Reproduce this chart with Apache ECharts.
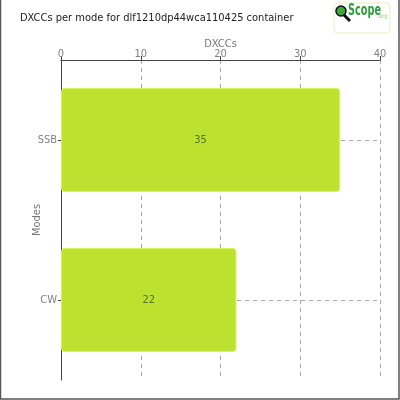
<!DOCTYPE html>
<html>
<head>
<meta charset="utf-8" />
<title>DXCCs per mode</title>
<script src="https://cdn.jsdelivr.net/npm/echarts@6/dist/echarts.min.js"></script>
<style>
  html, body { margin: 0; padding: 0; background: #fff; }
  #chart { width: 400px; height: 400px; }
</style>
</head>
<body>
<div id="chart"></div>
<script>
// data
var modes = ['CW', 'SSB'];
var dxccs = [22, 35];
var xTicks = [0, 10, 20, 30, 40];

var chart = echarts.init(document.getElementById('chart'));
var font = '"DejaVu Sans Condensed", sans-serif';

chart.setOption({
  animation: false,
  backgroundColor: '#fff',
  textStyle: { fontFamily: font },
  title: {
    text: 'DXCCs per mode for dlf1210dp44wca110425 container',
    left: 15, top: 8,
    textStyle: { fontFamily: font, fontSize: 11, fontWeight: 'normal', color: '#222' }
  },
  grid: { left: 61, right: 20, top: 60, bottom: 20, containLabel: false },
  xAxis: {
    type: 'value',
    position: 'top',
    min: xTicks[0], max: xTicks[xTicks.length - 1], interval: 10,
    name: 'DXCCs', nameLocation: 'middle', nameGap: 10, nameMoveOverlap: false,
    nameTextStyle: { color: '#777', fontSize: 11, fontFamily: font },
    axisLine: { show: true, lineStyle: { color: '#444', width: 1 } },
    axisTick: { show: true, length: 4, lineStyle: { color: '#444' } },
    axisLabel: { color: '#808080', fontSize: 11, margin: 0, fontFamily: font },
    splitLine: { show: true, lineStyle: { color: '#aaa', type: [4, 4] } }
  },
  yAxis: {
    type: 'category',
    data: modes,
    name: 'Modes', nameLocation: 'middle', nameGap: 18, nameRotate: 90, nameMoveOverlap: false,
    nameTextStyle: { color: '#777', fontSize: 11, fontFamily: font },
    axisLine: { show: true, lineStyle: { color: '#444', width: 1 } },
    axisTick: { show: true, alignWithLabel: true, length: 3, lineStyle: { color: '#444' } },
    axisLabel: { color: '#808080', fontSize: 11, margin: 4, fontFamily: font },
    splitLine: { show: true, alignWithLabel: true, lineStyle: { color: '#aaa', type: [4, 4] } }
  },
  series: [{
    type: 'bar',
    data: dxccs,
    barWidth: '65%',
    itemStyle: { color: '#bde12f', borderColor: '#d6f35a', borderWidth: 1, borderRadius: 3 },
    label: {
      show: true, position: 'inside',
      color: '#5f7020', fontSize: 11, fontFamily: font
    }
  }],
  graphic: [
    { type: 'rect', silent: true, shape: { x: 0.5, y: -2, width: 398.5, height: 401 }, style: { fill: null, stroke: '#555', lineWidth: 1.5 } },
    { type: 'rect', silent: true, shape: { x: 334, y: 3, width: 56, height: 30, r: 4 }, style: { fill: '#fff', stroke: '#e8efc4', lineWidth: 1 } },
    { type: 'line', silent: true, shape: { x1: 344, y1: 15, x2: 350, y2: 21 }, style: { stroke: '#111', lineWidth: 3 } },
    { type: 'circle', silent: true, shape: { cx: 341, cy: 11, r: 5 }, style: { fill: '#3aa83a', stroke: '#111', lineWidth: 1.5 } },
    { type: 'text', silent: true, x: 348, y: 4, scaleX: 0.72, style: { text: 'Scope', fill: '#2e9e3c', fontSize: 15, fontWeight: 'bold', fontFamily: font } },
    { type: 'text', silent: true, x: 377, y: 13, style: { text: '.org', fill: '#9bd07a', fontSize: 6, fontFamily: font } }
  ]
});
</script>
</body>
</html>
